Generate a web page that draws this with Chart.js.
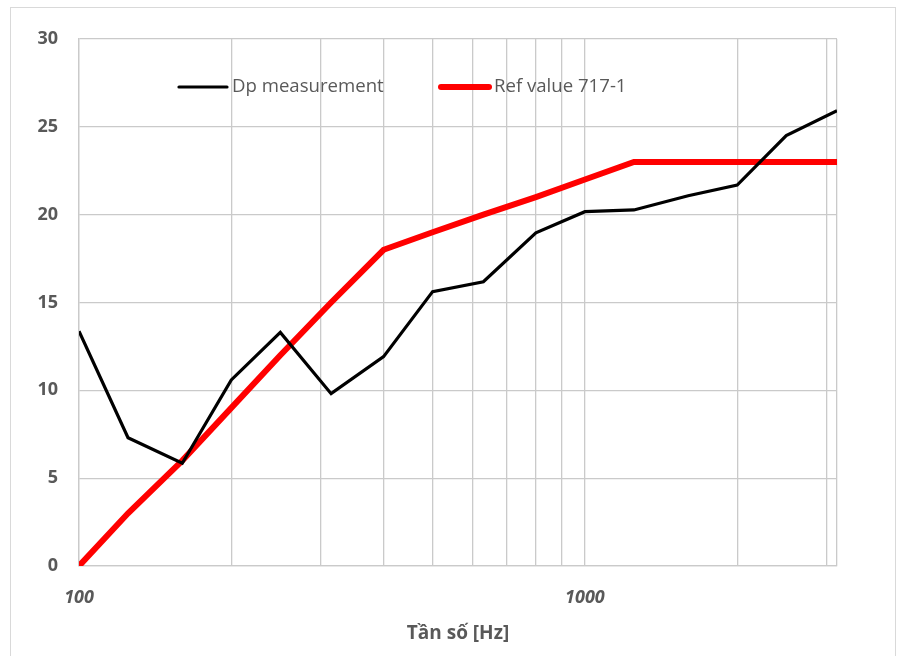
<!DOCTYPE html>
<html>
<head>
<meta charset="utf-8">
<script src="https://cdn.jsdelivr.net/npm/chart.js@4"></script>
<style>
  html, body { margin: 0; padding: 0; background: #fff; }
  #wrap { position: relative; width: 901px; height: 656px; }
</style>
</head>
<body>
<div id="wrap"><canvas id="chart" width="901" height="656"></canvas></div>
<script>
// Third-octave band frequencies (Hz)
const freqs = [100, 125, 160, 200, 250, 315, 400, 500, 630, 800, 1000, 1250, 1600, 2000, 2500, 3150];
// Measured Dp values
const dpMeasured = [13.37, 7.3, 5.85, 10.59, 13.3, 9.81, 11.92, 15.62, 16.18, 18.97, 20.17, 20.27, 21.08, 21.68, 24.5, 25.92];
// ISO 717-1 reference curve (shifted)
const refValues = [0, 3, 6, 9, 12, 15, 18, 19, 20, 21, 22, 23, 23, 23, 23, 23];
// Vertical grid positions on the log axis, and which ones get a label
const xGridTicks = [100, 200, 300, 400, 500, 600, 700, 800, 900, 1000, 2000, 3000, 3150];
const xLabelled = [100, 1000];
const yTicks = [0, 5, 10, 15, 20, 25, 30];

const TXT = '#595959';
const GRID = '#cacaca';
const FONT = "'Open Sans', 'Noto Sans', sans-serif";

const toPoints = vals => freqs.map((f, i) => ({ x: f, y: vals[i] }));

// outer frame + white background
const framePlugin = {
  id: 'frame',
  beforeDraw(chart) {
    const ctx = chart.ctx;
    ctx.save();
    ctx.fillStyle = '#fff';
    ctx.fillRect(0, 0, chart.width, chart.height);
    ctx.strokeStyle = '#d9d9d9';
    ctx.lineWidth = 1;
    ctx.strokeRect(10.5, 7.5, 885, 700);
    ctx.restore();
  }
};

// legend drawn inside the plot area, near the top
const innerLegend = {
  id: 'innerLegend',
  afterDatasetsDraw(chart) {
    const ctx = chart.ctx;
    const area = chart.chartArea;
    const y = area.top + 48;
    const starts = [area.left + 100, area.left + 362];
    ctx.save();
    ctx.font = '18.6px ' + FONT;
    ctx.textBaseline = 'middle';
    chart.data.datasets.forEach((ds, i) => {
      const x0 = starts[i];
      ctx.strokeStyle = ds.borderColor;
      ctx.lineWidth = ds.borderWidth;
      ctx.lineCap = 'round';
      ctx.beginPath();
      ctx.moveTo(x0, y);
      ctx.lineTo(x0 + 48, y);
      ctx.stroke();
      ctx.fillStyle = TXT;
      ctx.fillText(ds.label, x0 + 53, y);
    });
    ctx.restore();
  }
};

new Chart(document.getElementById('chart'), {
  type: 'line',
  data: {
    datasets: [
      { label: 'Dp measurement', data: toPoints(dpMeasured), borderColor: '#000000', borderWidth: 3.2, pointRadius: 0, tension: 0 },
      { label: 'Ref value 717-1', data: toPoints(refValues), borderColor: '#ff0000', borderWidth: 6, pointRadius: 0, tension: 0 },
    ]
  },
  options: {
    responsive: false,
    animation: false,
    layout: { padding: { left: 0, top: 39, right: 64, bottom: 0 } },
    plugins: { legend: { display: false }, tooltip: { enabled: false } },
    scales: {
      x: {
        type: 'logarithmic',
        min: 100,
        max: 3150,
        afterBuildTicks: s => { s.ticks = xGridTicks.map(v => ({ value: v })); },
        afterFit: s => { s.height = 90; },
        grid: { color: GRID, lineWidth: 1.3, drawTicks: false },
        border: { color: GRID, width: 1.3 },
        ticks: {
          autoSkip: false,
          maxRotation: 0,
          padding: 21,
          color: TXT,
          font: { family: FONT, size: 18, weight: 'bold', style: 'italic' },
          callback: v => xLabelled.includes(v) ? String(v) : ''
        },
        title: {
          display: true,
          text: 'Tần số [Hz]',
          color: TXT,
          font: { family: FONT, size: 19, weight: 'bold' },
          padding: { top: 0, bottom: 11 }
        }
      },
      y: {
        min: 0,
        max: 30,
        afterBuildTicks: s => { s.ticks = yTicks.map(v => ({ value: v })); },
        afterFit: s => { s.width = 79; },
        grid: { color: GRID, lineWidth: 1.3, drawTicks: false },
        border: { color: GRID, width: 1.3 },
        ticks: {
          padding: 21,
          color: TXT,
          font: { family: FONT, size: 18, weight: 'bold' }
        }
      }
    }
  },
  plugins: [framePlugin, innerLegend]
});
</script>
</body>
</html>
